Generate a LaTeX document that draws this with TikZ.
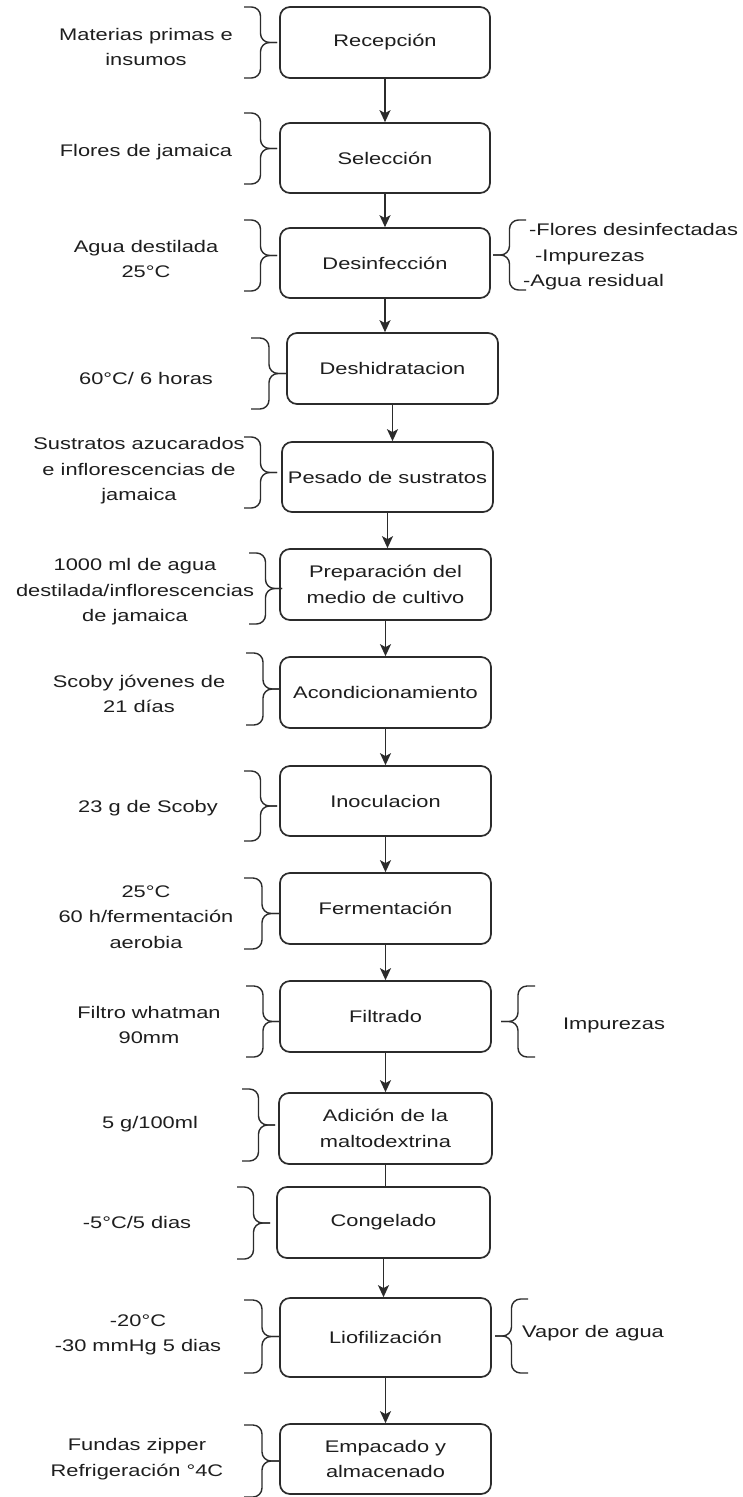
\documentclass[tikz,border=0pt]{standalone}
\usepackage{fontspec}
\setmainfont[FakeStretch=1.3]{Liberation Sans}
\usetikzlibrary{arrows.meta}
\definecolor{ink}{HTML}{1E1E1E}
\definecolor{edge}{HTML}{2B2B2B}
\tikzset{
  every node/.style={font=\fontsize{16.8}{25.5}\selectfont, text=ink},
  stepbox/.style={draw=edge, line width=1.7pt, rounded corners=10pt, align=center, inner sep=0pt},
  lbl/.style={align=center, inner sep=0pt},
  flow/.style={draw=edge, line width=1.6pt, -{Stealth[length=12pt,width=11pt,inset=3pt]}},
  plainline/.style={draw=edge, line width=1.6pt},
  bracestyle/.style={draw=edge, line width=1.4pt, rounded corners=9pt},
}
\newcommand\BraceAt[4]{% #1 = x of open ends, #2 = x of tip, #3 = top y, #4 = bottom y
  \draw[bracestyle] (#1,#3) -- ({(#1+#2)/2},#3) -- ({(#1+#2)/2},{(#3+#4)/2}) -- (#2,{(#3+#4)/2});
  \draw[bracestyle] (#1,#4) -- ({(#1+#2)/2},#4) -- ({(#1+#2)/2},{(#3+#4)/2}) -- (#2,{(#3+#4)/2});
}
\begin{document}
\begin{tikzpicture}[x=1pt,y=-1pt]
\useasboundingbox[fill=white] (0,0) rectangle (743,1497);

% process boxes
\node[stepbox, minimum width=210pt, minimum height=71pt] (rec)  at (385,42.5)   {Recepción};
\node[stepbox, minimum width=210pt, minimum height=70pt] (sel)  at (385,158)    {Selección};
\node[stepbox, minimum width=210pt, minimum height=70pt] (des)  at (385,263)    {Desinfección};
\node[stepbox, minimum width=211pt, minimum height=71pt] (desh) at (392.5,368.5){Deshidratacion};
\node[stepbox, minimum width=211pt, minimum height=70pt] (pes)  at (387.5,477)  {Pesado de sustratos};
\node[stepbox, minimum width=211pt, minimum height=71pt] (prep) at (385.5,584.5){Preparación del\\medio de cultivo};
\node[stepbox, minimum width=211pt, minimum height=71pt] (acon) at (385.5,692.5){Acondicionamiento};
\node[stepbox, minimum width=211pt, minimum height=70pt] (inoc) at (385.5,801)  {Inoculacion};
\node[stepbox, minimum width=211pt, minimum height=71pt] (ferm) at (385.5,908.5){Fermentación};
\node[stepbox, minimum width=211pt, minimum height=71pt] (filt) at (385.5,1016.5){Filtrado};
\node[stepbox, minimum width=213pt, minimum height=71pt] (adic) at (385.5,1128.5){Adición de la\\maltodextrina};
\node[stepbox, minimum width=213pt, minimum height=71pt] (cong) at (383.5,1222.5){Congelado};
\node[stepbox, minimum width=211pt, minimum height=79pt] (liof) at (385.5,1337.5){Liofilización};
\node[stepbox, minimum width=211pt, minimum height=70pt] (emp)  at (385.5,1459)  {Empacado y\\almacenado};

% connectors
\draw[flow] (rec.south) -- (rec.south |- sel.north);
\draw[flow] (sel.south) -- (sel.south |- des.north);
\draw[flow] (des.south) -- (des.south |- desh.north);
\draw[flow] (desh.south) -- (desh.south |- pes.north);
\draw[flow] (pes.south) -- (pes.south |- prep.north);
\draw[flow] (prep.south) -- (prep.south |- acon.north);
\draw[flow] (acon.south) -- (acon.south |- inoc.north);
\draw[flow] (inoc.south) -- (inoc.south |- ferm.north);
\draw[flow] (ferm.south) -- (ferm.south |- filt.north);
\draw[flow] (filt.south) -- (filt.south |- adic.north);
\draw[plainline] (adic.south) -- (adic.south |- cong.north);
\draw[flow] (cong.south) -- (cong.south |- liof.north);
\draw[flow] (liof.south) -- (liof.south |- emp.north);

% left braces
\BraceAt{244}{277}{7}{78}
\BraceAt{244}{277}{113}{184}
\BraceAt{244}{277}{220}{291}
\BraceAt{251}{287}{338}{409}
\BraceAt{244}{277}{437}{508}
\BraceAt{249}{282}{553}{624}
\BraceAt{246}{280}{653}{725}
\BraceAt{244}{277}{771}{841}
\BraceAt{244}{280}{878}{949}
\BraceAt{246}{280}{986}{1057}
\BraceAt{242}{275}{1089}{1161}
\BraceAt{237}{270}{1187}{1259}
\BraceAt{244}{280}{1300}{1373}
\BraceAt{244}{280}{1425}{1497}

% right braces
\BraceAt{526}{493}{220}{290}
\BraceAt{535}{501}{986}{1057}
\BraceAt{528}{495}{1299}{1373}

% left labels
\node[lbl] (t1)  at (146,47)   {Materias primas e\\insumos};
\node[lbl] (t2)  at (146,152)  {Flores de jamaica};
\node[lbl] (t3)  at (146,259)  {Agua destilada\\25°C};
\node[lbl] (t4)  at (146,378)  {60°C/ 6 horas};
\node[lbl] (t5)  at (139,471)  {Sustratos azucarados\\e inflorescencias de\\jamaica};
\node[lbl] (t6)  at (135,592)  {1000 ml de agua\\destilada/inflorescencias\\de jamaica};
\node[lbl] (t7)  at (139,694)  {Scoby jóvenes de\\21 días};
\node[lbl] (t8)  at (148,808)  {23 g de Scoby};
\node[lbl] (t9)  at (146,917)  {25°C\\60 h/fermentación\\aerobia};
\node[lbl] (t10) at (149,1025) {Filtro whatman\\90mm};
\node[lbl] (t11) at (150,1124) {5 g/100ml};
\node[lbl] (t12) at (137,1222) {-5°C/5 dias};
\node[lbl] (t13) at (138,1335) {-20°C\\-30 mmHg 5 dias};
\node[lbl] (t14) at (137,1459) {Fundas zipper\\Refrigeración °4C};

% right labels
\node[lbl, align=left, anchor=west] (r3) at (523,257) {\hspace{6pt}-Flores desinfectadas\\\hspace{12pt}-Impurezas\\-Agua residual};
\node[lbl] (r10) at (614,1025) {Impurezas};
\node[lbl] (r13) at (593,1333) {Vapor de agua};
\end{tikzpicture}
\end{document}
